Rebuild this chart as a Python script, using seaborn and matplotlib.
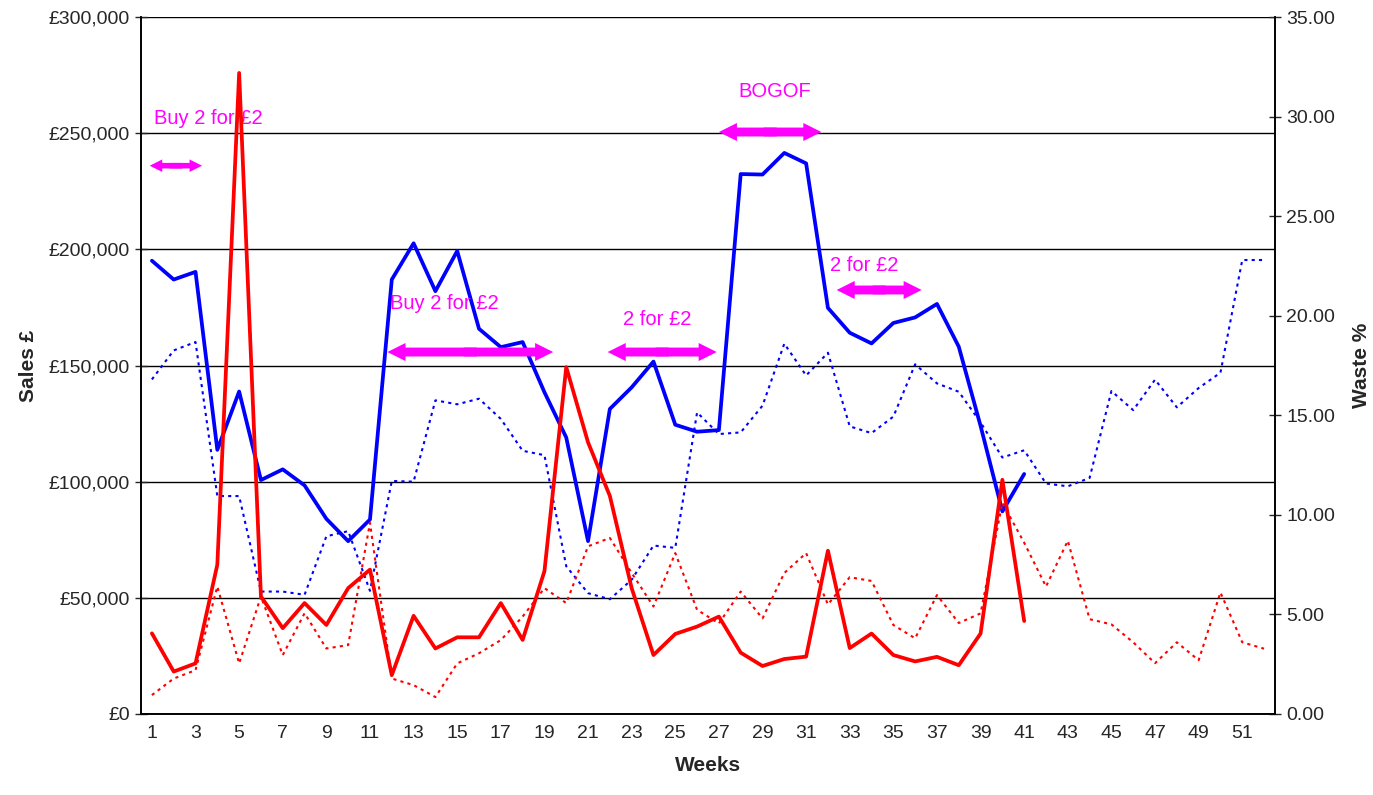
import pandas as pd
import seaborn as sns
import matplotlib.pyplot as plt
from matplotlib.ticker import FuncFormatter, MultipleLocator

sns.set_style('white')
plt.rcParams['font.family'] = ['Liberation Sans', 'DejaVu Sans']

# data
weeks_all = list(range(1, 53))
weeks_ty = list(range(1, 42))

sales_ty = [195100, 187000, 190300, 113700, 138800, 100700, 105300, 98400, 84000, 74400,
            83700, 187000, 202600, 182000, 199300, 165800, 157900, 160100, 138500, 119000,
            74400, 131300, 140600, 151700, 124500, 121500, 122200, 232400, 232200, 241500,
            237000, 174800, 164100, 159500, 168300, 170700, 176500, 158100, 124000, 87200,
            103300]
sales_ly = [144000, 156500, 160100, 93800, 93800, 52700, 52700, 51300, 76500, 78700,
            53000, 100300, 100000, 135000, 133300, 135700, 127000, 113300, 111400, 63600,
            52000, 49400, 57800, 72500, 71500, 129800, 120500, 121200, 132700, 159400,
            145700, 155500, 123800, 120900, 128000, 150500, 142300, 138700, 125500, 110400,
            113500, 99200, 98000, 101600, 139000, 130800, 143900, 132000, 140300, 146900,
            195400, 195400]
waste_ty = [4.05, 2.13, 2.54, 7.50, 32.19, 5.90, 4.31, 5.57, 4.47, 6.32,
            7.25, 1.95, 4.93, 3.29, 3.85, 3.85, 5.57, 3.72, 7.17, 17.42,
            13.64, 10.95, 6.32, 2.96, 4.02, 4.39, 4.89, 3.08, 2.41, 2.76,
            2.88, 8.20, 3.31, 4.04, 2.96, 2.64, 2.87, 2.45, 4.04, 11.76,
            4.67]
waste_ly = [0.95, 1.78, 2.20, 6.40, 2.54, 5.90, 2.96, 5.06, 3.29, 3.46,
            9.60, 1.78, 1.45, 0.85, 2.54, 3.05, 3.71, 4.89, 6.32, 5.57,
            8.42, 8.84, 7.08, 5.40, 8.08, 5.23, 4.55, 6.15, 4.80, 7.08,
            8.08, 5.50, 6.87, 6.68, 4.47, 3.80, 5.97, 4.57, 5.05, 10.60,
            8.60, 6.40, 8.70, 4.76, 4.50, 3.60, 2.55, 3.60, 2.70, 6.10,
            3.60, 3.28]

promo_labels = ['Buy 2 for £2', 'Buy 2 for £2', '2 for £2', 'BOGOF', '2 for £2']
promo_start = [0.9, 11.8, 21.9, 27.0, 32.4]
promo_end = [3.3, 19.4, 26.9, 31.7, 36.3]

ty = pd.DataFrame({'week': weeks_ty, 'sales': sales_ty, 'waste': waste_ty})
ly = pd.DataFrame({'week': weeks_all, 'sales': sales_ly, 'waste': waste_ly})

fig, ax = plt.subplots(figsize=(13.73, 7.95), dpi=100)
fig.subplots_adjust(left=0.1027, right=0.9286, top=0.9786, bottom=0.1019)
ax2 = ax.twinx()

dot = (0, (1.5, 2.0))
sns.lineplot(data=ly, x='week', y='sales', ax=ax, color='#0000FF', lw=1.5, linestyle=dot)
sns.lineplot(data=ty, x='week', y='sales', ax=ax, color='#0000FF', lw=2.7)
sns.lineplot(data=ly, x='week', y='waste', ax=ax2, color='#FF0000', lw=1.5, linestyle=dot)
sns.lineplot(data=ty, x='week', y='waste', ax=ax2, color='#FF0000', lw=2.7)

# axes
ax.set_xlim(0.5, 52.5)
ax.set_ylim(0, 300000)
ax2.set_ylim(0, 35)
ax.yaxis.set_major_locator(MultipleLocator(50000))
ax.yaxis.set_major_formatter(FuncFormatter(lambda v, p: f'£{v:,.0f}'))
ax2.yaxis.set_major_locator(MultipleLocator(5))
ax2.yaxis.set_major_formatter(FuncFormatter(lambda v, p: f'{v:.2f}'))
ax.set_xticks(weeks_all[::2])
ax.set_xticks([w + 0.5 for w in range(0, 53)], minor=True)
ax.tick_params(axis='x', which='major', length=0, labelsize=14, pad=8)
ax.tick_params(axis='x', which='minor', length=5, width=1, direction='out')
ax.tick_params(axis='y', length=8, width=1, direction='inout', labelsize=14, pad=4)
ax2.tick_params(axis='y', length=8, width=1, direction='inout', labelsize=14, pad=4)
ax.grid(axis='y', color='black', lw=1)
ax2.grid(False)

for a in (ax, ax2):
    for s in a.spines.values():
        s.set_color('black')
        s.set_linewidth(1.2)
    a.spines['top'].set_visible(False)

ax.set_xlabel('Weeks', fontsize=15, fontweight='bold', labelpad=10)
ax.set_ylabel('Sales £', fontsize=15, fontweight='bold', labelpad=8)
ax2.set_ylabel('Waste %', fontsize=15, fontweight='bold', labelpad=12)

# promotion arrows
arrow_y = [236000, 155800, 155800, 250500, 182500]
text_x = [1.1, 11.9, 22.6, 27.9, 32.1]
text_y = [256500, 176900, 169600, 268000, 193200]
for i, lab in enumerate(promo_labels):
    mid = (promo_start[i] + promo_end[i]) / 2
    if i == 0:
        st = 'simple,head_length=0.45,head_width=0.45,tail_width=0.2'
    else:
        st = 'simple,head_length=0.65,head_width=0.65,tail_width=0.32'
    ax.annotate('', xy=(promo_start[i], arrow_y[i]), xytext=(mid + 0.3, arrow_y[i]),
                arrowprops=dict(arrowstyle=st, color='#FF00FF', lw=0,
                                shrinkA=0, shrinkB=0, mutation_scale=20))
    ax.annotate('', xy=(promo_end[i], arrow_y[i]), xytext=(mid - 0.3, arrow_y[i]),
                arrowprops=dict(arrowstyle=st, color='#FF00FF', lw=0,
                                shrinkA=0, shrinkB=0, mutation_scale=20))
    ax.text(text_x[i], text_y[i], lab, color='#FF00FF', fontsize=14.5, va='center', ha='left')

plt.savefig('out.png', dpi=100)
